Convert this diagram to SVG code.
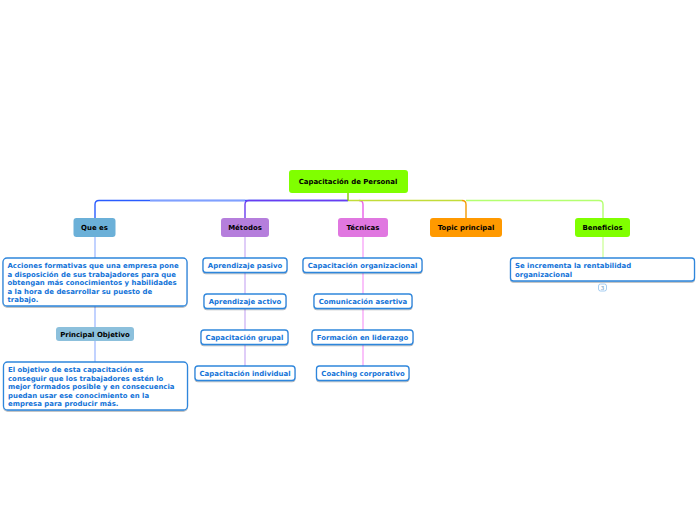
<svg xmlns="http://www.w3.org/2000/svg" width="696" height="520" viewBox="0 0 696 520">
<defs><filter id="sh" x="-5%" y="-15%" width="110%" height="135%"><feDropShadow dx="0" dy="1" stdDeviation="0.7" flood-color="#000" flood-opacity="0.3"/></filter></defs>
<style>
text{font-family:"DejaVu Sans",Verdana,sans-serif;font-weight:700;font-size:6.95px}
.h{fill:#000;text-anchor:middle}
.t{fill:#1273d8}
.c{text-anchor:middle}
.w{fill:#fff;stroke:#2f86dc;stroke-width:1.3;filter:url(#sh)}
.l{fill:none;stroke-width:1.4}
</style>
<rect width="696" height="520" fill="#fff"/>
<g id="connectors">
<path class="l" stroke="#2a5cff" d="M348 200.500H99Q95 200.500 95 204.500V218"/>
<path class="l" stroke="#7fa0ff" d="M150 200.500H245"/>
<path class="l" stroke="#6a3cf0" d="M348 200.500H249Q245 200.500 245 204.500V218"/>
<path class="l" stroke="#ea5fea" d="M359 200.500Q363 200.500 363 204.500V218"/>
<path class="l" stroke="#f39a00" d="M462 200.500Q466 200.500 466 204.500V218"/>
<path class="l" stroke="#b4ff70" d="M466 200.500H599Q603 200.500 603 204.500V218"/>
<path class="l" stroke="#c2dc3a" d="M348 200.500H462"/>
<path class="l" stroke="#7ec900" d="M348 193V200.500"/>
<path class="l" stroke="#a8bfff" d="M95 237V258M95 306V327M95 341V362"/>
<path class="l" stroke="#d2b8f5" d="M245 237V258M245 272V294M245 309V330M245 345V366"/>
<path class="l" stroke="#f8a8f8" d="M363 237V258M363 272V294M363 309V330M363 345V366"/>
<path class="l" stroke="#d0ffa0" d="M603 237V258"/>
</g>
<g id="root"><rect x="289" y="170" width="119" height="23" rx="3" fill="#80ff00"/><text class="h" x="348" y="184">Capacitación de Personal</text></g>
<g id="n-quees"><rect x="73.500" y="218" width="42" height="19" rx="3" fill="#6bb0d8"/><text class="h" x="94.500" y="230">Que es</text></g>
<g id="n-metodos"><rect x="221" y="218" width="48" height="19" rx="3" fill="#b57edc"/><text class="h" x="245" y="230">Métodos</text></g>
<g id="n-tecnicas"><rect x="338" y="218" width="50" height="19" rx="3" fill="#e077e0"/><text class="h" x="363" y="230">Técnicas</text></g>
<g id="n-topic"><rect x="430" y="218" width="72" height="19" rx="3" fill="#ff9900"/><text class="h" x="466" y="230">Topic principal</text></g>
<g id="n-beneficios"><rect x="575" y="218" width="55" height="19" rx="3" fill="#80ff00"/><text class="h" x="602.500" y="230">Beneficios</text></g>
<g id="n-acciones"><rect class="w" x="3" y="258" width="184" height="48" rx="4"/>
<text class="t" x="7.500" y="268">Acciones formativas que una empresa pone</text>
<text class="t" x="7.500" y="276.500">a disposición de sus trabajadores para que</text>
<text class="t" x="7.500" y="285">obtengan más conocimientos y habilidades</text>
<text class="t" x="7.500" y="293.500">a la hora de desarrollar su puesto de</text>
<text class="t" x="7.500" y="302">trabajo.</text></g>
<g id="n-principal"><rect x="56" y="327" width="78" height="14" rx="3" fill="#8cc0dc"/><text class="h" x="95" y="337">Principal Objetivo</text></g>
<g id="n-objetivo"><rect class="w" x="3.500" y="362" width="184" height="48" rx="4"/>
<text class="t" x="8" y="372">El objetivo de esta capacitación es</text>
<text class="t" x="8" y="380.500">conseguir que los trabajadores estén lo</text>
<text class="t" x="8" y="389">mejor formados posible y en consecuencia</text>
<text class="t" x="8" y="397.500">puedan usar ese conocimiento en la</text>
<text class="t" x="8" y="406">empresa para producir más.</text></g>
<g id="n-m1"><rect class="w" x="203" y="258" width="84" height="14.500" rx="3"/><text class="t c" x="245" y="268">Aprendizaje pasivo</text></g>
<g id="n-m2"><rect class="w" x="204" y="294" width="82" height="14.500" rx="3"/><text class="t c" x="245" y="304">Aprendizaje activo</text></g>
<g id="n-m3"><rect class="w" x="201" y="330" width="87" height="14.500" rx="3"/><text class="t c" x="244.500" y="340">Capacitación grupal</text></g>
<g id="n-m4"><rect class="w" x="195" y="366" width="100" height="14.500" rx="3"/><text class="t c" x="245" y="376">Capacitación individual</text></g>
<g id="n-t1"><rect class="w" x="303" y="258" width="119" height="14.500" rx="3"/><text class="t c" x="362.500" y="268">Capacitación organizacional</text></g>
<g id="n-t2"><rect class="w" x="314" y="294" width="98" height="14.500" rx="3"/><text class="t c" x="363" y="304">Comunicación asertiva</text></g>
<g id="n-t3"><rect class="w" x="312" y="330" width="101" height="14.500" rx="3"/><text class="t c" x="362.500" y="340">Formación en liderazgo</text></g>
<g id="n-t4"><rect class="w" x="316.500" y="366" width="92.500" height="14.500" rx="3"/><text class="t c" x="363" y="376">Coaching corporativo</text></g>
<g id="n-b1"><rect class="w" x="510.500" y="258" width="184" height="23" rx="3"/>
<text class="t" x="515" y="268">Se incrementa la rentabilidad</text>
<text class="t" x="515" y="276.500">organizacional</text></g>
<g id="n-count"><rect x="598.500" y="284" width="8" height="7" rx="2" fill="#fff" stroke="#8fc0ee" stroke-width="0.8"/><text x="602.500" y="290" style="font-size:5.500px;font-weight:400" fill="#5a8fc0" text-anchor="middle">3</text></g>
</svg>
